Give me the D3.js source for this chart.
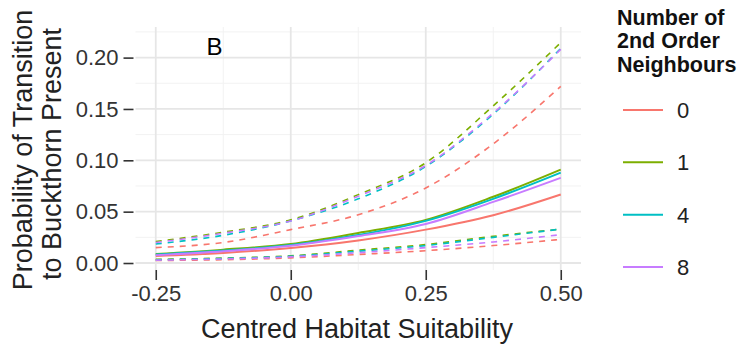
<!DOCTYPE html>
<html>
<head>
<meta charset="utf-8">
<script src="https://cdn.jsdelivr.net/npm/d3@7"></script>
<style>
  html, body { margin: 0; padding: 0; background: #fff; }
  svg { display: block; }
  text { font-family: "Liberation Sans", Arial, sans-serif; }
</style>
</head>
<body>
<svg id="chart" width="746" height="350"></svg>
<script>
// ---- data ----
const xValues = [-0.25, -0.125, 0, 0.125, 0.25, 0.375, 0.5];
const groups = ["0", "1", "4", "8"];
const colors = ["#F8766D", "#7CAE00", "#00BFC4", "#C77CFF"];

const fit0 = [0.0068, 0.0098, 0.0146, 0.0220, 0.0325, 0.0465, 0.0667];
const fit1 = [0.0088, 0.0130, 0.0185, 0.0293, 0.0420, 0.0645, 0.0910];
const fit4 = [0.0083, 0.0122, 0.0175, 0.0272, 0.0410, 0.0625, 0.0880];
const fit8 = [0.0076, 0.0115, 0.0168, 0.0262, 0.0380, 0.0595, 0.0830];

const upper0 = [0.0150, 0.0200, 0.0325, 0.0470, 0.0730, 0.1160, 0.1720];
const upper1 = [0.0210, 0.0300, 0.0420, 0.0666, 0.0976, 0.1530, 0.2146];
const upper4 = [0.0185, 0.0270, 0.0410, 0.0625, 0.0940, 0.1450, 0.2090];
const upper8 = [0.0200, 0.0290, 0.0410, 0.0650, 0.0950, 0.1460, 0.2080];

const lower0 = [0.0025, 0.0032, 0.0050, 0.0083, 0.0120, 0.0170, 0.0230];
const lower1 = [0.0035, 0.0048, 0.0070, 0.0125, 0.0180, 0.0260, 0.0330];
const lower4 = [0.0032, 0.0045, 0.0066, 0.0115, 0.0170, 0.0250, 0.0330];
const lower8 = [0.0028, 0.0040, 0.0060, 0.0100, 0.0150, 0.0205, 0.0276];

const xTicks = [-0.25, 0, 0.25, 0.5];
const xMinor = [-0.125, 0.125, 0.375];
const yTicks = [0, 0.05, 0.10, 0.15, 0.20];
const yMinor = [0.025, 0.075, 0.125, 0.175, 0.225];

const fits = [fit0, fit1, fit4, fit8];
const uppers = [upper0, upper1, upper4, upper8];
const lowers = [lower0, lower1, lower4, lower8];

// ---- layout ----
const svg = d3.select("#chart");
const panel = { left: 135.5, right: 581, top: 27, bottom: 270 };

const x = d3.scaleLinear().domain([-0.2875, 0.5375]).range([panel.left, panel.right]);
const y = d3.scaleLinear().domain([-0.0068, 0.2298]).range([panel.bottom, panel.top]);

const fmt = d => d3.format(".2f")(d).replace("\u2212", "-");

const grid = svg.append("g");
// minor grid
grid.selectAll("line.xminor").data(xMinor).enter().append("line")
  .attr("x1", d => x(d)).attr("x2", d => x(d))
  .attr("y1", panel.top).attr("y2", panel.bottom)
  .attr("stroke", "#f2f2f2").attr("stroke-width", 1);
grid.selectAll("line.yminor").data(yMinor).enter().append("line")
  .attr("y1", d => y(d)).attr("y2", d => y(d))
  .attr("x1", panel.left).attr("x2", panel.right)
  .attr("stroke", "#f2f2f2").attr("stroke-width", 1);
// major grid
grid.selectAll("line.xmajor").data(xTicks).enter().append("line")
  .attr("x1", d => x(d)).attr("x2", d => x(d))
  .attr("y1", panel.top).attr("y2", panel.bottom)
  .attr("stroke", "#e6e6e6").attr("stroke-width", 1.8);
grid.selectAll("line.ymajor").data(yTicks).enter().append("line")
  .attr("y1", d => y(d)).attr("y2", d => y(d))
  .attr("x1", panel.left).attr("x2", panel.right)
  .attr("stroke", "#e6e6e6").attr("stroke-width", 1.8);

// axes
const xAxis = d3.axisBottom(x).tickValues(xTicks).tickSize(10).tickPadding(4)
  .tickFormat(fmt);
const gx = svg.append("g").attr("transform", `translate(0,${panel.bottom})`).call(xAxis);
gx.select(".domain").remove();
gx.selectAll(".tick line").attr("stroke", "#333").attr("stroke-width", 1.6);
gx.selectAll(".tick text").attr("font-size", 22).attr("fill", "#333")
  .attr("font-family", "Liberation Sans, Arial, sans-serif").attr("dy", "0.71em").attr("y", 15);

const yAxis = d3.axisLeft(y).tickValues(yTicks).tickSize(10).tickPadding(5)
  .tickFormat(fmt);
const gy = svg.append("g").attr("transform", `translate(${panel.left - 2},0)`).call(yAxis);
gy.select(".domain").remove();
gy.selectAll(".tick line").attr("stroke", "#333").attr("stroke-width", 1.6);
gy.selectAll(".tick text").attr("font-size", 22).attr("fill", "#333")
  .attr("font-family", "Liberation Sans, Arial, sans-serif");

// lines
const line = d3.line()
  .x((d, i) => x(xValues[i]))
  .y(d => y(d))
  .curve(d3.curveMonotoneX);

const linesG = svg.append("g").attr("fill", "none");
groups.forEach((g, k) => {
  linesG.append("path").attr("d", line(uppers[k]))
    .attr("stroke", colors[k]).attr("stroke-width", 1.6).attr("stroke-dasharray", "6,6");
  linesG.append("path").attr("d", line(lowers[k]))
    .attr("stroke", colors[k]).attr("stroke-width", 1.6).attr("stroke-dasharray", "6,6");
});
groups.forEach((g, k) => {
  linesG.append("path").attr("d", line(fits[k]))
    .attr("stroke", colors[k]).attr("stroke-width", 2);
});

// panel label
svg.append("text").attr("x", x(-0.141)).attr("y", 55)
  .attr("text-anchor", "middle").attr("font-size", 24)
  .attr("font-family", "Open Sans, Noto Sans, sans-serif").attr("fill", "#000")
  .text("B");

// axis titles
svg.append("text").attr("x", 357).attr("y", 338)
  .attr("text-anchor", "middle").attr("font-size", 27).attr("fill", "#222")
  .text("Centred Habitat Suitability");

svg.append("text").attr("transform", "translate(32,150) rotate(-90)")
  .attr("text-anchor", "middle").attr("font-size", 27).attr("fill", "#222")
  .text("Probability of Transition");
svg.append("text").attr("transform", "translate(61,154) rotate(-90)")
  .attr("text-anchor", "middle").attr("font-size", 27).attr("fill", "#222")
  .text("to Buckthorn Present");

// legend
const legTitle = ["Number of", "2nd Order", "Neighbours"];
const lg = svg.append("g");
lg.selectAll("text.title").data(legTitle).enter().append("text")
  .attr("x", 617).attr("y", (d, i) => 24.5 + i * 23.5)
  .attr("font-size", 21.5).attr("font-weight", "bold").attr("fill", "#111")
  .text(d => d);
const keyY = d3.scalePoint().domain(groups).range([110, 267]);
groups.forEach((g, k) => {
  lg.append("line").attr("x1", 623).attr("x2", 663)
    .attr("y1", keyY(g)).attr("y2", keyY(g))
    .attr("stroke", colors[k]).attr("stroke-width", 2);
  lg.append("text").attr("x", 677).attr("y", keyY(g)).attr("dy", "0.36em")
    .attr("font-size", 22).attr("fill", "#222").text(g);
});
</script>
</body>
</html>
